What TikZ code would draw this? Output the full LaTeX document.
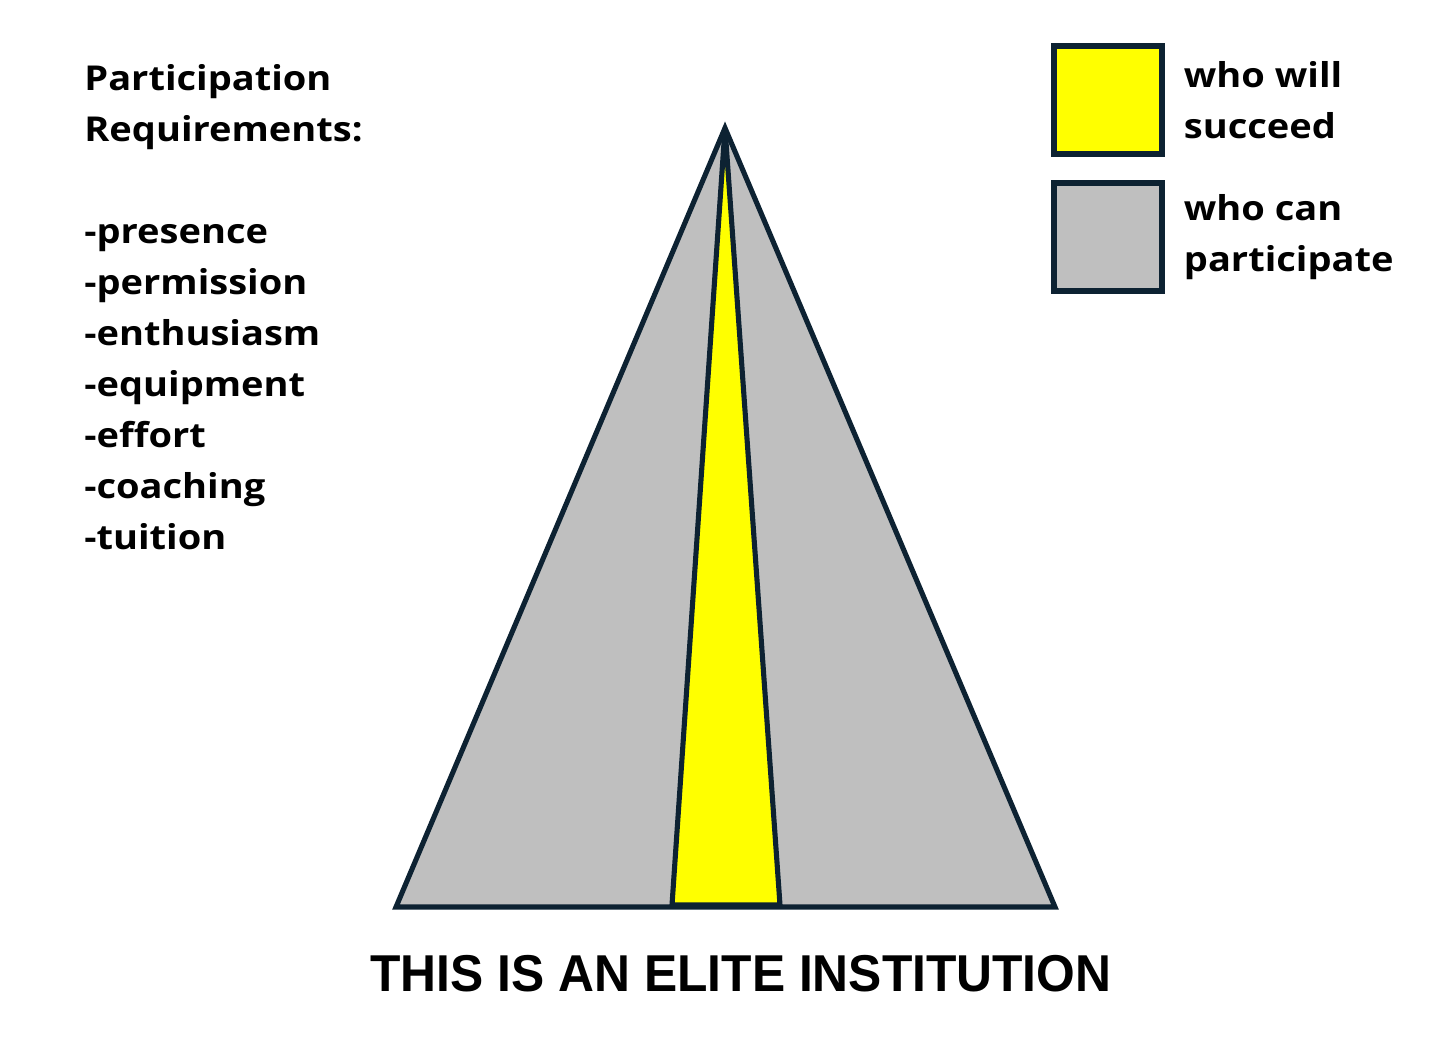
\documentclass[tikz,border=0pt]{standalone}
\usepackage{fontspec}
\setmainfont{Open Sans}
\newfontfamily\titlefont{Liberation Sans}
\usetikzlibrary{positioning}
\definecolor{navy}{HTML}{0D2232}
\definecolor{partgray}{HTML}{BFBFBF}
\definecolor{winyellow}{HTML}{FFFF00}
\tikzset{
  edge/.style={draw=navy, line width=2.9pt},
  keybox/.style={edge, minimum size=2.16cm, inner sep=0pt},
  label/.style={font=\fontsize{19.5}{29}\selectfont\bfseries, align=left, inner sep=0pt, xscale=1.11},
}
\begin{document}
\begin{tikzpicture}[x=0.02cm, y=-0.02cm]
    \useasboundingbox (0,0) rectangle (1456,1037);

    % Pyramid
    \coordinate (top) at (725,128);
    \coordinate (bl) at (396,907);
    \coordinate (br) at (1055,907);
    \coordinate (yl) at (672,905);
    \coordinate (yr) at (780,905);
    \path[edge, fill=partgray] (top) -- (bl) -- (br) -- cycle;
    \path[edge, fill=winyellow] (top) -- (yl) -- (yr) -- cycle;

    % Requirements
    \node[label, anchor=base west] (req) at (84,549)
        {Participation\\Requirements:\\[29pt]-presence\\-permission\\-enthusiasm\\-equipment\\-effort\\-coaching\\-tuition};

    % Legend
    \node[keybox, fill=winyellow] (succ) at (1108,100) {};
    \node[keybox, fill=partgray] (part) at (1108,237) {};
    \node[label, right=0.38cm of succ] (succtext) {who will\\succeed};
    \node[label, right=0.38cm of part] (parttext) {who can\\participate};

    % Title
    \node[font=\titlefont\fontsize{29.5}{30}\selectfont\bfseries, anchor=base, xscale=0.96] (title) at (741,991)
        {THIS IS AN ELITE INSTITUTION};
\end{tikzpicture}
\end{document}
